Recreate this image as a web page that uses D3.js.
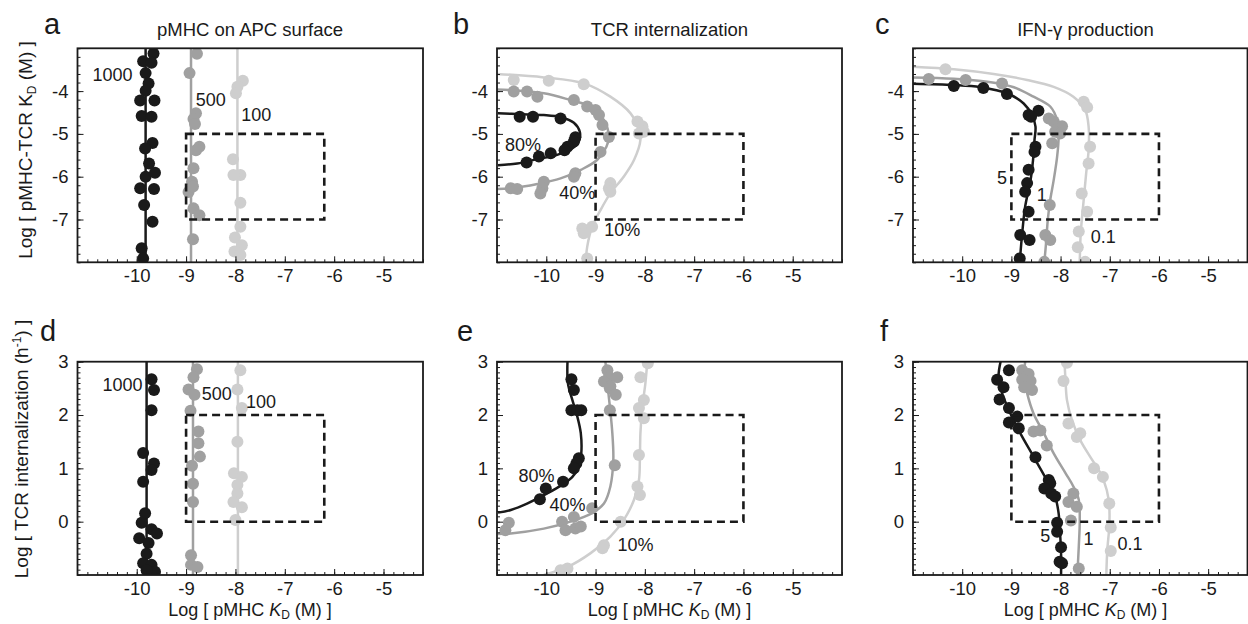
<!DOCTYPE html>
<html><head><meta charset="utf-8">
<script src="https://cdn.jsdelivr.net/npm/d3@7"></script>
<style>
body{margin:0;background:#fff}
svg{display:block}
text{font-family:"Liberation Sans",Arial,Helvetica,sans-serif;fill:#1a1a1a}
</style>
</head><body>
<svg id="chart" width="1248" height="624"></svg>
<script>
// ---------------- DATA ----------------
const panelLetters = ["a","b","c","d","e","f"];
const panelTitles = ["pMHC on APC surface","TCR internalization","IFN-\u03b3 production"];
const xTickValues = [-10,-9,-8,-7,-6,-5];
const yTicksTop = [-7,-6,-5,-4];
const yTicksBottom = [0,1,2,3];

// panel a: pMHC on APC surface (vertical fits)
const aLineX = [-9.82,-8.90,-7.96];               // black, mid, light
const aBlackDots = [[-9.66,-3.12],[-9.87,-3.30],[-9.70,-3.34],[-9.82,-3.58],[-9.76,-3.82],[-9.82,-3.99],[-9.93,-4.22],[-9.64,-4.22],[-9.90,-4.58],[-9.70,-4.60],[-9.68,-5.21],[-9.83,-5.34],[-9.75,-5.69],[-9.82,-6.00],[-9.63,-5.91],[-9.93,-6.27],[-9.65,-6.29],[-9.85,-6.66],[-9.68,-7.05],[-9.90,-7.67],[-9.87,-7.91]];
const aMidDots = [[-8.78,-3.13],[-8.93,-3.58],[-8.80,-4.52],[-8.85,-4.65],[-8.82,-4.77],[-8.73,-5.30],[-8.80,-5.38],[-8.85,-5.80],[-8.88,-6.12],[-8.95,-6.36],[-8.86,-6.23],[-8.85,-6.74],[-8.73,-6.90],[-8.86,-7.46]];
const aLightDots = [[-7.85,-3.76],[-7.96,-3.90],[-7.99,-4.05],[-8.05,-5.59],[-7.90,-5.96],[-8.04,-5.96],[-7.90,-6.61],[-7.90,-7.17],[-8.01,-7.42],[-7.87,-7.60],[-8.02,-7.75],[-7.90,-7.83]];
const aLabels = ["1000","500","100"];
const aLabelAt = [[-10.49,-3.62],[-8.50,-4.21],[-7.58,-4.56]];

// panel b: TCR internalization (KD vs KD)
const bBlackCurve = [[-10.98,-4.52],[-10.52,-4.54],[-10.05,-4.56],[-9.71,-4.61],[-9.44,-4.74],[-9.32,-4.95],[-9.32,-5.10],[-9.37,-5.24],[-9.51,-5.36],[-9.78,-5.49],[-10.18,-5.59],[-10.59,-5.69],[-10.98,-5.73]];
const bMidCurve = [[-11.0,-3.96],[-10.05,-4.05],[-9.51,-4.21],[-9.10,-4.36],[-8.83,-4.68],[-8.73,-5.07],[-8.78,-5.30],[-8.97,-5.61],[-9.30,-5.84],[-9.71,-6.04],[-10.18,-6.17],[-10.72,-6.27],[-11.0,-6.29]];
const bLightCurve = [[-11.0,-3.60],[-10.05,-3.68],[-9.24,-3.82],[-8.70,-4.13],[-8.29,-4.52],[-8.12,-4.91],[-8.09,-5.14],[-8.22,-5.61],[-8.43,-6.00],[-8.70,-6.39],[-8.90,-6.78],[-9.07,-7.17],[-9.17,-7.64],[-9.20,-8.0]];
const bBlackDots = [[-10.54,-4.60],[-10.27,-4.60],[-9.71,-4.64],[-9.41,-5.08],[-9.44,-5.18],[-9.57,-5.30],[-9.63,-5.38],[-9.91,-5.45],[-10.15,-5.53],[-10.40,-5.67]];
const bMidDots = [[-10.66,-4.01],[-10.39,-4.01],[-10.18,-4.13],[-9.44,-4.21],[-9.17,-4.36],[-9.00,-4.44],[-8.93,-4.56],[-8.86,-4.79],[-8.73,-5.07],[-8.90,-5.42],[-9.41,-5.92],[-9.44,-6.00],[-10.05,-6.12],[-10.08,-6.27],[-10.12,-6.39],[-10.72,-6.27],[-10.59,-6.29]];
const bLightDots = [[-10.66,-3.74],[-9.95,-3.76],[-9.24,-3.84],[-8.15,-4.71],[-8.05,-4.82],[-8.02,-4.95],[-8.12,-4.99],[-8.70,-6.15],[-8.73,-6.27],[-8.70,-6.35],[-9.27,-7.21],[-9.07,-7.17],[-9.24,-7.32],[-9.17,-7.91]];
const bLabels = ["80%","40%","10%"];
const bLabelAt = [[-10.47,-5.26],[-9.37,-6.37],[-8.46,-7.25]];

// panel c: IFN-gamma production (KD vs KD)
const cBlackCurve = [[-11.0,-3.83],[-10.17,-3.86],[-9.63,-3.91],[-9.09,-4.05],[-8.75,-4.29],[-8.58,-4.56],[-8.51,-4.83],[-8.53,-5.14],[-8.56,-5.61],[-8.61,-6.08],[-8.72,-6.70],[-8.78,-7.32],[-8.83,-8.0]];
const cMidCurve = [[-11.0,-3.68],[-10.17,-3.71],[-9.49,-3.78],[-8.95,-3.91],[-8.55,-4.13],[-8.21,-4.36],[-8.07,-4.68],[-8.04,-5.07],[-8.07,-5.53],[-8.14,-6.08],[-8.21,-6.54],[-8.26,-7.01],[-8.29,-7.48],[-8.33,-8.0]];
const cLightCurve = [[-11.0,-3.43],[-10.17,-3.49],[-9.36,-3.60],[-8.68,-3.74],[-8.14,-3.90],[-7.74,-4.13],[-7.50,-4.44],[-7.43,-4.83],[-7.43,-5.38],[-7.48,-5.92],[-7.53,-6.54],[-7.59,-7.32],[-7.61,-8.0]];
const cBlackDots = [[-10.17,-3.88],[-9.57,-3.93],[-9.09,-4.07],[-8.65,-4.56],[-8.45,-4.46],[-8.60,-4.60],[-8.51,-5.30],[-8.53,-5.42],[-8.65,-5.84],[-8.68,-6.15],[-8.72,-6.35],[-8.65,-6.82],[-8.82,-7.36],[-8.63,-7.48],[-8.83,-7.91]];
const cMidDots = [[-10.68,-3.72],[-9.93,-3.74],[-9.19,-3.82],[-8.24,-4.64],[-8.14,-4.71],[-8.04,-4.83],[-7.97,-4.82],[-8.11,-4.95],[-8.17,-5.22],[-8.01,-4.99],[-8.22,-6.66],[-8.31,-7.36],[-8.21,-7.48],[-8.33,-7.99]];
const cLightDots = [[-10.34,-3.49],[-7.53,-4.25],[-7.46,-4.38],[-7.40,-5.30],[-7.43,-5.69],[-7.57,-6.39],[-7.46,-6.82],[-7.63,-7.28],[-7.65,-7.65],[-7.50,-7.99]];
const cLabels = ["5","1","0.1"];
const cLabelAt = [[-9.19,-6.04],[-8.38,-6.43],[-7.13,-7.40]];

// panel d: pMHC on APC surface (internalization)
const dLineX = [-9.80,-8.86,-7.95];
const dBlackDots = [[-9.70,2.67],[-9.65,2.47],[-9.70,2.09],[-9.87,1.29],[-9.65,1.09],[-9.70,0.97],[-9.87,0.75],[-9.83,0.16],[-9.90,-0.02],[-9.70,-0.14],[-9.59,-0.22],[-9.95,-0.31],[-9.76,-0.40],[-9.80,-0.60],[-9.87,-0.78],[-9.70,-0.81],[-9.63,-0.94],[-9.80,-0.91]];
const dMidDots = [[-8.78,2.86],[-8.85,2.71],[-8.95,2.48],[-8.83,2.38],[-8.91,2.08],[-8.75,1.69],[-8.75,1.47],[-8.72,1.22],[-8.88,1.05],[-8.86,0.71],[-8.86,0.37],[-8.90,-0.63],[-8.90,-0.81],[-8.77,-0.85]];
const dLightDots = [[-7.90,2.84],[-7.96,2.48],[-7.87,2.13],[-7.96,1.50],[-8.03,0.91],[-7.87,0.84],[-7.96,0.69],[-7.96,0.53],[-8.04,0.37],[-7.87,0.27],[-8.00,0.03]];
const dLabels = ["1000","500","100"];
const dLabelAt = [[-10.29,2.56],[-8.38,2.39],[-7.48,2.25]];

// panel e: TCR internalization
const eBlackCurve = [[-9.57,3.0],[-9.56,2.59],[-9.47,2.28],[-9.37,1.97],[-9.30,1.66],[-9.29,1.28],[-9.34,1.03],[-9.47,0.84],[-9.68,0.69],[-9.98,0.53],[-10.39,0.34],[-10.72,0.22],[-10.98,0.17]];
const eMidCurve = [[-8.80,3.0],[-8.76,2.59],[-8.71,2.16],[-8.66,1.66],[-8.64,1.16],[-8.70,0.66],[-8.83,0.34],[-9.07,0.16],[-9.51,0.0],[-10.05,-0.13],[-10.72,-0.22],[-10.98,-0.23]];
const eLightCurve = [[-7.95,3.0],[-7.99,2.59],[-8.05,2.16],[-8.09,1.66],[-8.10,1.22],[-8.12,0.78],[-8.22,0.41],[-8.43,0.03],[-8.70,-0.28],[-9.10,-0.59],[-9.57,-0.85],[-10.05,-1.0]];
const eBlackDots = [[-9.49,2.67],[-9.44,2.47],[-9.49,2.09],[-9.37,2.09],[-9.29,2.09],[-9.34,1.19],[-9.39,1.09],[-9.44,1.00],[-9.66,0.75],[-10.01,0.62],[-10.13,0.42]];
const eMidDots = [[-8.76,2.84],[-8.73,2.71],[-8.83,2.63],[-8.70,2.54],[-8.56,2.71],[-8.71,2.50],[-8.59,2.38],[-8.71,2.09],[-8.61,1.06],[-9.07,0.25],[-9.44,0.09],[-9.68,0.00],[-9.61,-0.16],[-9.41,-0.13],[-9.30,-0.09],[-10.76,-0.02],[-10.83,-0.16]];
const eLightDots = [[-7.94,2.97],[-8.09,2.71],[-8.02,2.28],[-8.12,2.13],[-8.02,1.94],[-8.12,1.25],[-8.15,0.66],[-8.10,0.50],[-8.49,0.00],[-8.83,-0.44],[-8.86,-0.50],[-9.57,-0.88],[-9.71,-0.91]];
const eLabels = ["80%","40%","10%"];
const eLabelAt = [[-10.20,0.86],[-9.57,0.31],[-8.19,-0.44]];

// panel f: IFN-gamma production
const fBlackCurve = [[-9.22,3.0],[-9.26,2.72],[-9.19,2.41],[-9.02,2.03],[-8.82,1.66],[-8.55,1.22],[-8.28,0.78],[-8.11,0.47],[-8.04,0.16],[-8.01,-0.22],[-7.99,-0.59],[-7.99,-1.0]];
const fMidCurve = [[-8.72,3.0],[-8.74,2.72],[-8.68,2.41],[-8.55,2.03],[-8.34,1.66],[-8.14,1.28],[-7.90,0.91],[-7.74,0.66],[-7.63,0.41],[-7.61,0.03],[-7.63,-0.47],[-7.66,-1.0]];
const fLightCurve = [[-7.92,3.0],[-7.90,2.66],[-7.87,2.28],[-7.77,1.91],[-7.60,1.53],[-7.40,1.22],[-7.19,0.91],[-7.06,0.59],[-7.01,0.28],[-7.01,-0.09],[-7.05,-0.53],[-7.07,-1.0]];
const fBlackDots = [[-9.05,2.84],[-9.29,2.66],[-9.16,2.52],[-9.24,2.29],[-9.05,2.13],[-8.88,1.97],[-9.05,1.86],[-8.85,1.75],[-8.51,1.21],[-8.24,0.78],[-8.21,0.72],[-8.33,0.62],[-8.19,0.53],[-8.11,0.47],[-8.07,-0.02],[-8.07,-0.19],[-7.99,-0.48],[-8.02,-0.75],[-7.97,-0.78]];
const fMidDots = [[-8.78,2.84],[-8.65,2.77],[-8.78,2.66],[-8.61,2.64],[-8.74,2.52],[-8.58,2.47],[-8.55,1.69],[-8.41,1.71],[-8.28,1.43],[-7.74,0.53],[-7.84,0.37],[-7.67,0.28],[-7.79,0.02],[-7.63,-0.88]];
const fLightDots = [[-7.87,2.98],[-7.94,2.64],[-7.84,1.84],[-7.60,1.66],[-7.67,1.59],[-7.32,1.00],[-7.14,0.84],[-7.01,0.34],[-6.98,-0.11],[-6.98,-0.55]];
const fLabels = ["5","1","0.1"];
const fLabelAt = [[-8.31,-0.27],[-7.43,-0.33],[-6.59,-0.41]];

// dashed boxes [xMin, xMax, yMin, yMax]
const boxTopA = [-9,-6.2,-7,-5];
const boxTop = [-9,-6,-7,-5];
const boxBottomD = [-9,-6.2,0,2];
const boxBottom = [-9,-6,0,2];

// ---------------- DRAWING ----------------
const COLORS = ["#1a1a1a","#a0a0a0","#cecece"]; // black, mid, light
const svg = d3.select("#chart");
const FONT = '"Liberation Sans",Arial,Helvetica,sans-serif';

const rowTop = {y0:48.3, y1:262.3, yDom:[-8,-3], yTicks:yTicksTop, yMinor:0.2, letterY:34};
const rowBot = {y0:361.7, y1:575, yDom:[-1,3], yTicks:yTicksBottom, yMinor:0.1, letterY:341};

const panels = [
  {id:"a", row:rowTop, x0:77.5, x1:423, xDom:[-11.2,-4.2], letterX:44, title:panelTitles[0], lines:aLineX,
   dots:[aLightDots,aMidDots,aBlackDots], labels:aLabels, labelAt:aLabelAt, box:boxTopA},
  {id:"b", row:rowTop, x0:497, x1:842, xDom:[-11,-4], letterX:453, title:panelTitles[1],
   curves:[bLightCurve,bMidCurve,bBlackCurve], dots:[bLightDots,bMidDots,bBlackDots], labels:bLabels, labelAt:bLabelAt, box:boxTop},
  {id:"c", row:rowTop, x0:913, x1:1247.5, xDom:[-11,-4.2], letterX:875, title:panelTitles[2],
   curves:[cLightCurve,cMidCurve,cBlackCurve], dots:[cLightDots,cMidDots,cBlackDots], labels:cLabels, labelAt:cLabelAt, box:boxTop},
  {id:"d", row:rowBot, x0:77.5, x1:423, xDom:[-11.2,-4.2], letterX:40, lines:dLineX,
   dots:[dLightDots,dMidDots,dBlackDots], labels:dLabels, labelAt:dLabelAt, box:boxBottomD},
  {id:"e", row:rowBot, x0:497, x1:842, xDom:[-11,-4], letterX:457,
   curves:[eLightCurve,eMidCurve,eBlackCurve], dots:[eLightDots,eMidDots,eBlackDots], labels:eLabels, labelAt:eLabelAt, box:boxBottom},
  {id:"f", row:rowBot, x0:913, x1:1247.5, xDom:[-11,-4.2], letterX:880,
   curves:[fLightCurve,fMidCurve,fBlackCurve], dots:[fLightDots,fMidDots,fBlackDots], labels:fLabels, labelAt:fLabelAt, box:boxBottom}
];

panels.forEach((p, i) => {
  const r = p.row;
  const x = d3.scaleLinear().domain(p.xDom).range([p.x0, p.x1]);
  const y = d3.scaleLinear().domain(r.yDom).range([r.y1, r.y0]);
  const g = svg.append("g");

  const clipId = "clip-" + p.id;
  svg.append("clipPath").attr("id", clipId).append("rect")
    .attr("x", p.x0).attr("y", r.y0).attr("width", p.x1 - p.x0).attr("height", r.y1 - r.y0);
  const plot = g.append("g").attr("clip-path", `url(#${clipId})`);

  if (p.lines) {
    p.lines.forEach((lx, k) => {
      plot.append("line")
        .attr("x1", x(lx)).attr("x2", x(lx))
        .attr("y1", y(r.yDom[0])).attr("y2", y(r.yDom[1]))
        .attr("stroke", COLORS[k]).attr("stroke-width", 2.5);
    });
  }
  if (p.curves) {
    const line = d3.line().x(d => x(d[0])).y(d => y(d[1])).curve(d3.curveCatmullRom.alpha(0.5));
    p.curves.forEach((c, k) => {
      plot.append("path").attr("d", line(c)).attr("fill", "none")
        .attr("stroke", COLORS[2 - k]).attr("stroke-width", 2.5);
    });
  }
  p.dots.forEach((ds, k) => {
    plot.selectAll(null).data(ds).enter().append("circle")
      .attr("cx", d => x(d[0])).attr("cy", d => y(d[1])).attr("r", 6)
      .attr("fill", COLORS[2 - k]);
  });

  const b = p.box;
  g.append("rect")
    .attr("x", x(b[0])).attr("y", y(b[3]))
    .attr("width", x(b[1]) - x(b[0])).attr("height", y(b[2]) - y(b[3]))
    .attr("fill", "none").attr("stroke", "#1a1a1a").attr("stroke-width", 2.6)
    .attr("stroke-dasharray", "8,5");

  p.labels.forEach((t, k) => {
    g.append("text").attr("x", x(p.labelAt[k][0])).attr("y", y(p.labelAt[k][1]))
      .attr("text-anchor", "middle").attr("dominant-baseline", "central")
      .attr("font-size", 18).text(t);
  });

  const xMinor = d3.range(Math.ceil(p.xDom[0] / 0.2) * 0.2, p.xDom[1] + 1e-9, 0.2);
  g.append("g").attr("transform", `translate(0,${r.y1})`)
    .call(d3.axisBottom(x).tickValues(xMinor).tickSize(-3).tickFormat(""))
    .call(s => s.select(".domain").remove());
  const yMinor = d3.range(r.yDom[0], r.yDom[1] + 1e-9, r.yMinor);
  g.append("g").attr("transform", `translate(${p.x0},0)`)
    .call(d3.axisLeft(y).tickValues(yMinor).tickSize(-3).tickFormat(""))
    .call(s => s.select(".domain").remove());
  const gx = g.append("g").attr("transform", `translate(0,${r.y1})`)
    .call(d3.axisBottom(x).tickValues(xTickValues).tickSize(-6).tickPadding(7).tickFormat(d => String(d)))
    .call(s => s.select(".domain").remove());
  gx.selectAll("text").attr("font-size", 18.5).attr("font-family", FONT).attr("fill", "#1a1a1a");
  const gy = g.append("g").attr("transform", `translate(${p.x0},0)`)
    .call(d3.axisLeft(y).tickValues(r.yTicks).tickSize(-6).tickPadding(9).tickFormat(d => String(d)))
    .call(s => s.select(".domain").remove());
  gy.selectAll("text").attr("font-size", 18.5).attr("font-family", FONT).attr("fill", "#1a1a1a");
  g.selectAll(".tick line").attr("stroke", "#1a1a1a").attr("stroke-width", 1);

  g.append("rect").attr("x", p.x0).attr("y", r.y0)
    .attr("width", p.x1 - p.x0).attr("height", r.y1 - r.y0)
    .attr("fill", "none").attr("stroke", "#1a1a1a").attr("stroke-width", 1.8);

  g.append("text").attr("x", p.letterX).attr("y", r.letterY)
    .attr("font-size", 29).text(panelLetters[i]);
  if (p.title) {
    g.append("text").attr("x", p.x0 + 172.5).attr("y", 36)
      .attr("text-anchor", "middle").attr("font-size", 18.5).text(p.title);
  }
  if (r === rowBot) {
    const t = g.append("text").attr("x", p.x0 + 172.5).attr("y", 616)
      .attr("text-anchor", "middle").attr("font-size", 18);
    t.append("tspan").text("Log [ pMHC ");
    t.append("tspan").attr("font-style", "italic").text("K");
    t.append("tspan").attr("font-size", 12).attr("dy", 3).text("D");
    t.append("tspan").attr("dy", -3).text(" (M) ]");
  }
});

const yl1 = svg.append("text").attr("transform", "translate(32,150) rotate(-90)")
  .attr("text-anchor", "middle").attr("font-size", 19);
yl1.append("tspan").text("Log [ pMHC-TCR K");
yl1.append("tspan").attr("font-size", 12).attr("dy", 4).text("D");
yl1.append("tspan").attr("dy", -4).text(" (M) ]");

const yl2 = svg.append("text").attr("transform", "translate(28,449) rotate(-90)")
  .attr("text-anchor", "middle").attr("font-size", 19);
yl2.append("tspan").text("Log [ TCR internalization (h");
yl2.append("tspan").attr("font-size", 12).attr("dy", -7).text("-1");
yl2.append("tspan").attr("dy", 7).text(") ]");
</script>
</body></html>
